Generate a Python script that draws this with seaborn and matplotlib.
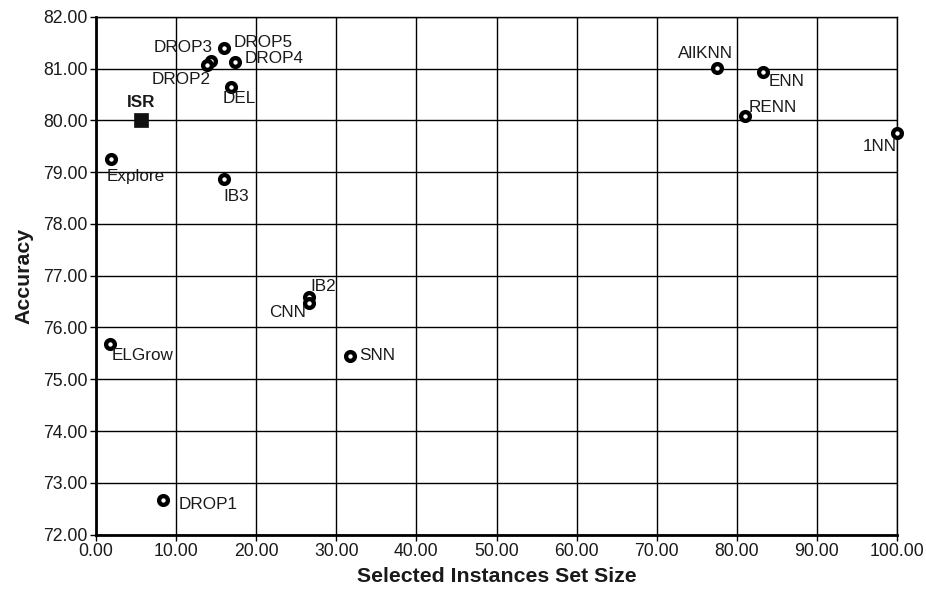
import matplotlib
matplotlib.use("Agg")
import matplotlib.pyplot as plt
import seaborn as sns
import pandas as pd

methods = ["DROP3", "DROP2", "DROP5", "DROP4", "DEL", "Explore", "IB3", "IB2", "CNN",
           "ELGrow", "SNN", "DROP1", "AllKNN", "ENN", "RENN", "1NN"]
sizes = [14.3, 13.9, 16.0, 17.3, 16.8, 1.9, 16.0, 26.6, 26.6,
         1.75, 31.7, 8.3, 77.5, 83.3, 81.0, 100.0]
accuracy = [81.14, 81.06, 81.39, 81.12, 80.65, 79.25, 78.86, 76.59, 76.48,
            75.69, 75.45, 72.66, 81.01, 80.94, 80.09, 79.75]
isr_size = [5.6]
isr_acc = [80.0]

# label offsets in pixels (dx, dy up positive), horizontal alignment
label_pos = {
    "DROP3": (2, 14, "right"), "DROP2": (3, -14, "right"), "DROP5": (9, 6, "left"),
    "DROP4": (10, 4, "left"), "DEL": (-8, -12, "left"), "Explore": (-5, -17, "left"),
    "IB3": (-1, -17, "left"), "IB2": (1, 10, "left"), "CNN": (-3, -10, "right"),
    "ELGrow": (2, -12, "left"), "SNN": (9, 0, "left"), "DROP1": (16, -4, "left"),
    "AllKNN": (16, 15, "right"), "ENN": (5, -10, "left"), "RENN": (4, 8, "left"),
    "1NN": (0, -13, "right"),
}

xticks = [0, 10, 20, 30, 40, 50, 60, 70, 80, 90, 100]
yticks = [72, 73, 74, 75, 76, 77, 78, 79, 80, 81, 82]

sns.set_theme(style="white")
plt.rcParams["font.family"] = ["Liberation Sans", "DejaVu Sans"]

fig = plt.figure(figsize=(9.26, 5.91), dpi=100)
ax = fig.add_axes([0.1037, 0.0953, 0.8650, 0.8764])

df = pd.DataFrame({"size": sizes, "acc": accuracy, "method": methods})
sns.scatterplot(data=df, x="size", y="acc", ax=ax, marker="o", s=40,
                facecolor="white", edgecolor="black", linewidth=3.1, zorder=5, clip_on=False)
sns.scatterplot(x=isr_size, y=isr_acc, ax=ax, marker="s", s=100, color="#111111",
                edgecolor="#111111", linewidth=0.5, zorder=5)

px = 72 / 100.0
for m, x, y in zip(methods, sizes, accuracy):
    dx, dy, ha = label_pos[m]
    ax.annotate(m, (x, y), xytext=(dx * px, dy * px), textcoords="offset points",
                ha=ha, va="center", fontsize=12.3, color="#1a1a1a", zorder=6)
ax.annotate("ISR", (isr_size[0], isr_acc[0]), xytext=(0, 18 * px), textcoords="offset points",
            ha="center", va="center", fontsize=12.3, fontweight="bold", color="#1a1a1a", zorder=6)

ax.set_xlim(0, 100)
ax.set_ylim(72, 82)
ax.set_xticks(xticks)
ax.set_yticks(yticks)
ax.set_xticklabels([f"{v:.2f}" for v in xticks], fontsize=12.7)
ax.set_yticklabels([f"{v:.2f}" for v in yticks], fontsize=12.7)
ax.grid(True, color="black", linewidth=1.0)
ax.set_axisbelow(True)
for s in ax.spines.values():
    s.set_color("black")
    s.set_linewidth(1.0)
ax.spines["left"].set_linewidth(2.0)
ax.spines["bottom"].set_linewidth(2.0)
ax.tick_params(axis="both", direction="out", length=4, width=1, color="black",
               bottom=True, left=True, pad=2, labelcolor="#1a1a1a")
ax.set_xlabel("Selected Instances Set Size", fontsize=15.3, fontweight="bold", labelpad=5,
              color="#1a1a1a")
ax.set_ylabel("Accuracy", fontsize=15.3, fontweight="bold", labelpad=7, color="#1a1a1a")

fig.savefig("out.png", dpi=100)
